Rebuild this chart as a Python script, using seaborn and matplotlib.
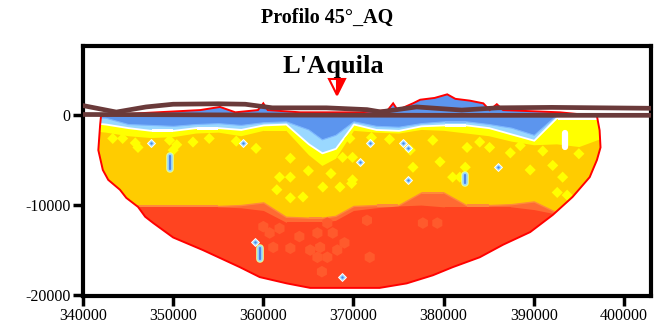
import numpy as np
import matplotlib
matplotlib.use("Agg")
import matplotlib.pyplot as plt
import seaborn as sns
from matplotlib.patches import Polygon

# outline of the tomography section (clockwise from top-left)
sec_x = [342000, 346300, 353000, 355200, 356900, 359400, 360000, 360500, 364100, 370700,
         373800, 374400, 374900, 376600, 377400, 379000, 380400, 381300, 382900, 384400,
         385100, 385900, 386600, 392900, 397000, 397300, 397400, 397000, 396200, 394300,
         392100, 389600, 386600, 384000, 381000, 378800, 375900, 372900, 365200, 362600,
         359600, 357400, 353300, 350000, 347800, 346900, 346100, 344800, 344100, 342800,
         342200, 341700, 341900]
sec_y = [-100, 200, 550, 900, 300, 550, 1300, 550, 300, 300,
         550, 1300, 550, 1300, 1700, 1900, 2300, 1800, 1600, 1300,
         550, 1200, 550, 300, -100, -1700, -3600, -5000, -6900, -9100,
         -11100, -13000, -14400, -15800, -16900, -17800, -18700, -19200, -19200, -18700,
         -18000, -16900, -15000, -13600, -12000, -11300, -10200, -9200, -8300, -7200,
         -6100, -3900, -1100]

# layer boundaries along the profile
band_x = [340500, 342500, 345000, 347500, 350000, 352500, 355000, 357500, 360000, 362500,
          365000, 366500, 368000, 370000, 372500, 375000, 377500, 380000, 382500, 385000,
          387500, 390000, 392500, 395000, 398500]
blue_bottom = [-200, -300, -1000, -1100, -1200, -1000, -900, -1100, -800, -700,
               -1600, -2700, -2200, -700, -1200, -1300, -900, -700, -700, -1000,
               -1400, -2200, 0, 0, 0]
light_bottom = [-800, -1000, -1400, -1700, -1700, -1400, -1400, -1600, -1100, -1000,
                -3200, -4200, -3700, -1000, -1600, -1700, -1200, -1100, -1100, -1400,
                -2100, -2800, -300, -300, -300]
yellow_bottom = [-1700, -1900, -2300, -2500, -2400, -2000, -1900, -2300, -1700, -1700,
                 -4400, -5600, -4800, -1700, -1900, -2000, -1600, -1700, -2000, -2300,
                 -2900, -3300, -3200, -3500, -2200]
light_top = [-10100, -10100, -10100, -10100, -10100, -10100, -10100, -10000, -9700, -11300,
             -11400, -11400, -11200, -10100, -10000, -10000, -8600, -8600, -10000, -10000,
             -9900, -9600, -10800, -10800, -10800]
red_top = [-10200, -10200, -10200, -10200, -10200, -10200, -10200, -10300, -10600, -11900,
           -11900, -11900, -11700, -10600, -10300, -10100, -10000, -10200, -10200, -10200,
           -10200, -10500, -11000, -11000, -11000]

# yellow speckles in the gold layer
yel_x = [343300, 344400, 345800, 346100, 349600, 350400, 350000, 352200, 359200, 363000,
         361800, 363000, 361500, 363000, 364400, 366600, 368500, 369800, 369900, 369600,
         368800, 369900, 376600, 378800, 379600, 381800, 382600, 385100, 387400, 389600,
         392100, 393200, 392600, 393700, 382400, 381000, 376300, 354000, 357000, 372000,
         374000, 384000, 388500, 391000, 395000, 365000, 367500]
yel_y = [-2600, -2600, -3100, -3600, -2800, -3300, -3900, -3000, -3700, -4800,
         -6900, -6900, -8300, -9200, -9100, -8000, -8000, -7600, -4700, -2600,
         -4700, -7200, -5800, -2800, -5200, -6900, -3600, -3600, -4200, -6100,
         -5600, -6900, -8600, -8900, -5800, -6900, -3900, -2600, -2900, -2500,
         -2700, -3000, -3400, -4000, -4300, -6200, -6500]

# lighter orange patches in the red layer
ora_x = [360000, 360700, 361800, 361100, 363000, 365200, 366300, 367100, 368200, 366000,
         366500, 371800, 366000, 367700, 367100, 377700, 371500, 379300, 364000, 369000]
ora_y = [-12400, -13100, -12600, -14700, -14800, -15000, -14700, -15800, -15000, -15800,
         -17400, -15800, -13100, -13100, -12000, -12000, -11700, -12000, -13500, -14200]

# small low-velocity spots
dot_x = [347500, 357700, 371800, 375500, 376000, 370700, 386000, 376000, 359100, 368700]
dot_y = [-3100, -3100, -3100, -3100, -3700, -5200, -5800, -7200, -14100, -18000]
blob_x = [349600, 359600, 382400]
blob_top = [-4500, -14800, -6700]
blob_bot = [-6000, -16000, -7500]
white_x = [393500]
white_top = [-2000]
white_bot = [-3600]

# topography lines
topo1_x = [340000, 343700, 347000, 350000, 355000, 358000, 361000, 367000, 371500, 373000,
           377000, 382000, 386000, 392000, 403000]
topo1_y = [1050, 330, 900, 1200, 1250, 1200, 800, 800, 600, 350, 900, 550, 800, 850, 750]
topo2_x = [340000, 360000, 380000, 403000]
topo2_y = [60, 0, -30, -30]

x_ticks = [340000, 350000, 360000, 370000, 380000, 390000, 400000]
y_ticks = [-20000, -10000, 0]

sns.set_style("ticks")
serif = ['Liberation Serif', 'DejaVu Serif']
plt.rcParams['font.family'] = serif
plt.rcParams['text.color'] = 'black'
plt.rcParams['axes.unicode_minus'] = False

fig = plt.figure(figsize=(6.55, 3.28), dpi=100)
ax = fig.add_axes([0.1267, 0.0976, 0.8672, 0.7622])

clip = Polygon(np.column_stack([sec_x, sec_y]), closed=True, facecolor='#ffcc00',
               edgecolor='none', zorder=1)
ax.add_patch(clip)

def clipped(artist):
    artist.set_clip_path(clip)
    return artist

bx = np.array(band_x)
clipped(ax.fill_between(bx, 3000, yellow_bottom, color='#ffff00', lw=0, zorder=2))
clipped(ax.fill_between(bx, 3000, light_bottom, facecolor='#9ad8ff', edgecolor='white',
                        lw=1.3, zorder=2.2))
clipped(ax.fill_between(bx, 3000, blue_bottom, facecolor='#5c95ee', edgecolor='#7fb8ff',
                        lw=0.8, zorder=2.4))

sns.scatterplot(x=yel_x, y=yel_y, marker='D', s=32, color='#ffff00', edgecolor='none',
                ax=ax, zorder=2.6, legend=False)
clipped(ax.collections[-1])

clipped(ax.fill_between(bx, light_top, -21000, facecolor='#ff6a33', edgecolor='#ff8a3a',
                        lw=1.0, zorder=3))
clipped(ax.fill_between(bx, red_top, -21000, color='#ff4420', lw=0, zorder=3.2))

sns.scatterplot(x=ora_x, y=ora_y, marker='h', s=70, color='#ff5a2c', edgecolor='none',
                ax=ax, zorder=3.4, legend=False)
clipped(ax.collections[-1])

ax.vlines(blob_x, blob_bot, blob_top, colors='#e8ff90', lw=5.5, zorder=3.6,
          capstyle='round')
ax.vlines(blob_x, blob_bot, blob_top, colors='#9ad8ff', lw=4, zorder=3.7,
          capstyle='round')
ax.vlines(blob_x, blob_bot, blob_top, colors='#4f86e8', lw=1.6, zorder=3.8,
          capstyle='round')
ax.vlines(white_x, white_bot, white_top, colors='white', lw=4.5, zorder=3.6,
          capstyle='round')
ax.scatter(dot_x, dot_y, marker='D', s=16, c='#9ad8ff', edgecolors='white',
           linewidths=0.7, zorder=3.8)
ax.scatter(dot_x, dot_y, marker='o', s=3, c='#4f86e8', linewidths=0, zorder=3.9)

outline = Polygon(np.column_stack([sec_x, sec_y]), closed=True, fill=False,
                  edgecolor='#ff0000', lw=1.4, zorder=4)
ax.add_patch(outline)

brown = '#6a3a3a'
sns.lineplot(x=topo1_x, y=topo1_y, color=brown, lw=3.4, sort=False, estimator=None,
             ax=ax, zorder=5)
sns.lineplot(x=topo2_x, y=topo2_y, color=brown, lw=3.4, sort=False, estimator=None,
             ax=ax, zorder=5)

ax.plot([368200], [3100], marker='v', ms=11, mec='#ff0000', mew=1.5, fillstyle='right',
        mfc='#ff0000', mfcalt='white', ls='none', zorder=6)
ax.text(367800, 5400, "L'Aquila", ha='center', va='center', fontsize=19,
        fontweight='bold', family=serif, color='black')

ax.set_xlim(340000, 403000)
ax.set_ylim(-20100, 7670)
ax.set_xticks(x_ticks)
ax.set_xticklabels([str(v) for v in x_ticks], family=serif, fontsize=11.5)
ax.set_yticks(y_ticks)
ax.set_yticklabels([str(v) for v in y_ticks], family=serif, fontsize=11.5)
ax.tick_params(direction='out', length=7, width=2.5, pad=2, colors='black')
for s in ax.spines.values():
    s.set_linewidth(3)
    s.set_color('black')
    s.set_visible(True)
ax.set_xlabel('')
ax.set_ylabel('')

fig.text(0.5, 0.945, 'Profilo 45°_AQ', ha='center', va='center', fontsize=14.5,
         fontweight='bold', family=serif, color='black')

fig.savefig('out.png', dpi=100)
